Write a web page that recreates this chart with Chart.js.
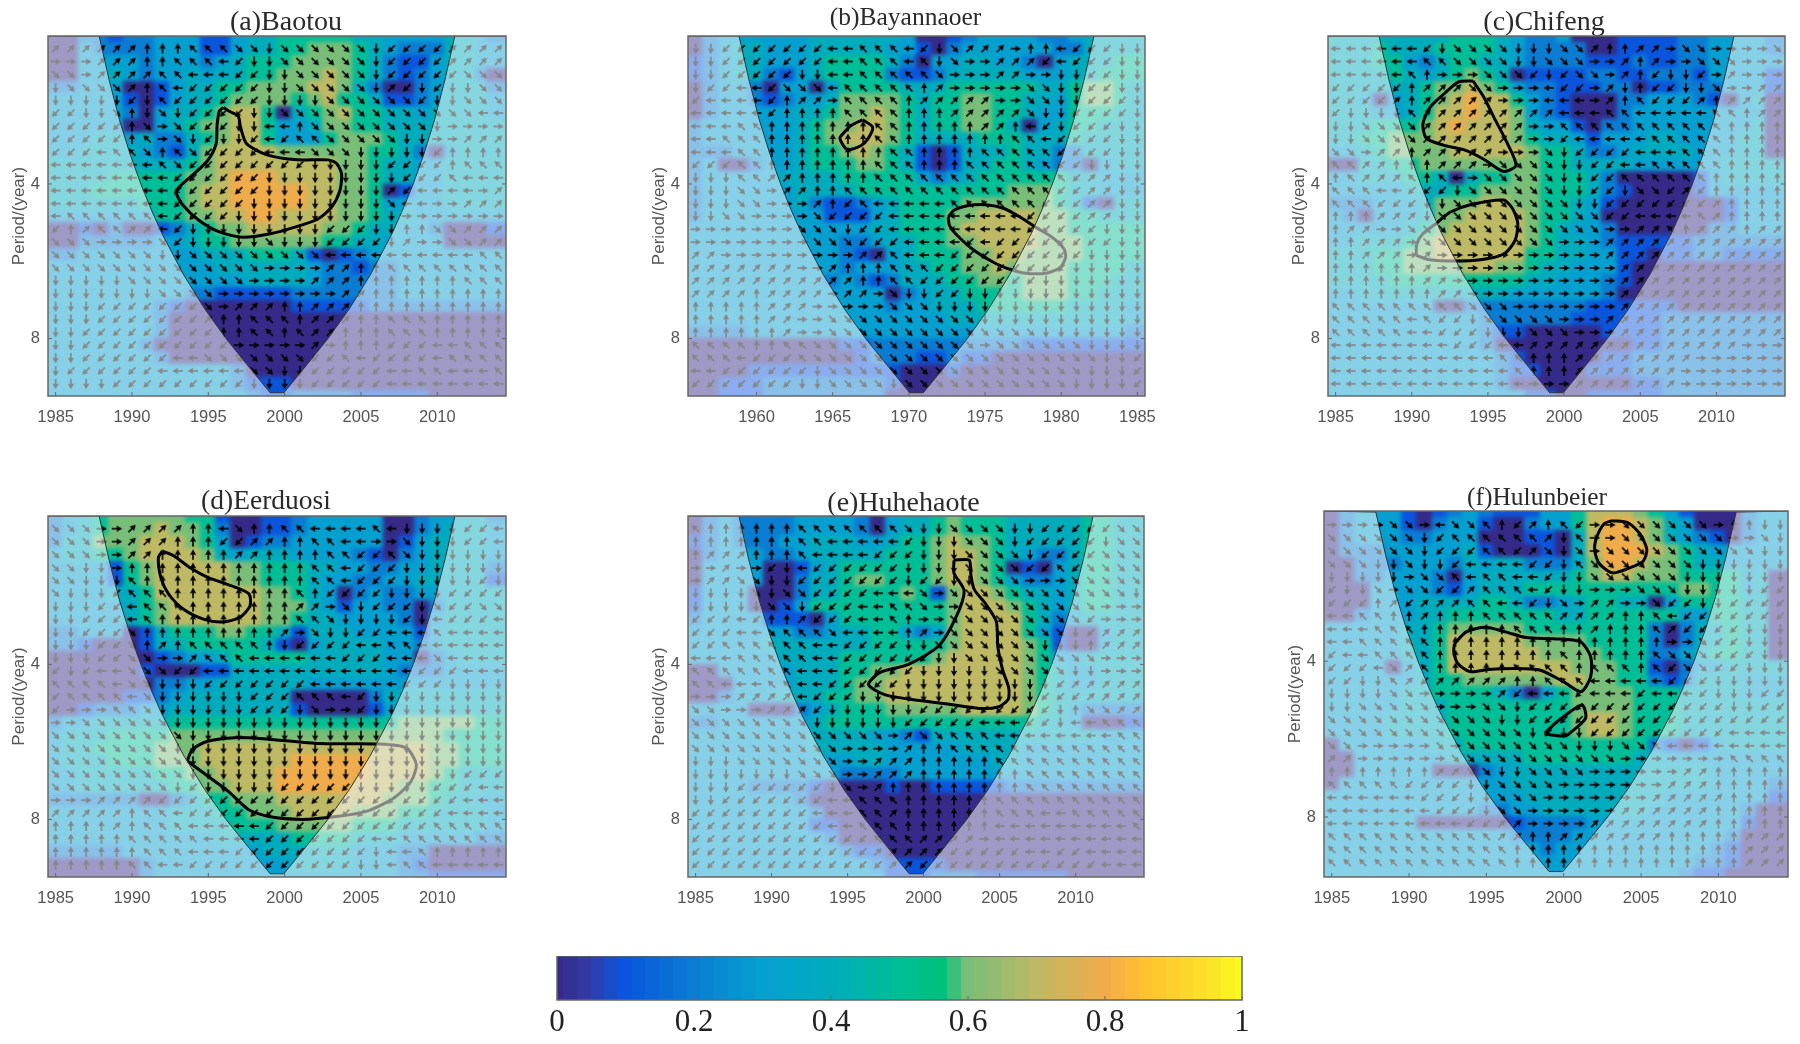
<!DOCTYPE html>
<html lang="en">
<head>
<meta charset="UTF-8">
<title>Wavelet coherence</title>
<script src="https://cdn.jsdelivr.net/npm/chart.js"></script>
<style>
    html, body { margin: 0; background: #fff; overflow: hidden; width: 1800px; height: 1044px; }
    canvas { position: absolute; filter: blur(0.6px); }
    canvas.heat { filter: blur(1.9px); }
</style>
</head>
<body>
<script>
// years and periods of the cells
const yearsMain = [1985,1986,1987,1988,1989,1990,1991,1992,1993,1994,1995,1996,1997,1998,1999,2000,2001,2002,2003,2004,2005,2006,2007,2008,2009,2010,2011,2012,2013,2014];
const yearsBayan = [1956,1957,1958,1959,1960,1961,1962,1963,1964,1965,1966,1967,1968,1969,1970,1971,1972,1973,1974,1975,1976,1977,1978,1979,1980,1981,1982,1983,1984,1985];
const periods = [2.06,2.18,2.31,2.45,2.6,2.75,2.91,3.09,3.27,3.47,3.67,3.89,4.12,4.37,4.62,4.9,5.19,5.5,5.83,6.17,6.54,6.93,7.34,7.78,8.24,8.73,9.25,9.8,10.38];
const tickPeriods = [4, 8];
const tickYearsMain = [1985,1990,1995,2000,2005,2010];
const tickYearsBayan = [1960,1965,1970,1975,1980,1985];

// cone of influence
const conePeriods = [2.06,2.5,3,3.5,4,4.5,5,6,7,8,9,10.2];
const coneOffsets = [2.85,3.49,4.18,4.88,5.58,6.28,6.97,8.37,9.76,11.16,12.55,14.05];

// coherence, one digit per cell (tenths), one row per period
const heatA = [
'00221 22333 11344 55555 44333 34432','00322 22333 11344 55666 54322 24433','00333 32333 23455 56666 54211 34433','00334 32334 34455 66676 54212 34420',
'22333 00134 45566 66776 42002 34442','33333 10134 45666 65675 54112 34443','33333 20344 56775 04567 55443 44443','33333 00345 66775 33466 55444 44444',
'33344 34224 56775 33356 66544 44444','33444 43214 67777 66666 65542 03444','44444 44445 67777 77776 65443 34444','44445 55556 67888 77776 65443 34444',
'44455 55556 77888 88776 65013 34444','44444 45556 77888 88776 65333 34444','33333 33556 67788 77776 65443 33333','00102 00124 56677 77766 54433 20001',
'00222 22334 55666 66655 44333 30000','22333 33333 44455 54101 23333 33333','33333 33333 34444 44322 12233 33333','33333 33333 33344 44322 22233 33333',
'33333 33332 21111 12222 22233 33333','33333 33210 00000 01111 12222 22222','33333 33200 00000 00000 00000 00000','33333 33200 00000 00000 00000 00000',
'33333 32000 00000 00000 00000 00000','33333 33200 00000 00000 00000 00000','33333 33333 33200 00000 00000 00000','33333 33333 33211 10000 00000 00000','33333 33333 33321 12222 11111 00000'];
const heatB = [
'02333 33344 44443 00123 33322 34444','02344 33344 44433 10233 33332 24444','12344 33345 55542 03344 33203 44455','12344 21345 55521 12444 44333 44555',
'02332 03303 55554 44555 55544 56654','02332 12334 66665 45566 55443 56654','02333 33445 66765 45566 55433 55544','23333 33456 67765 45566 54034 55444',
'23333 33456 77765 44445 55444 54444','22233 33455 67654 10144 45442 24444','23002 33455 56654 10144 55432 20344','23333 34444 55555 32345 55555 44333',
'23333 33444 45555 55555 56665 44333','23333 33421 12345 55566 66665 41044','23333 33331 11345 55667 77766 55444','33333 33333 33445 55677 77766 55555',
'33333 33333 22344 55667 77766 65555','33333 33333 21034 55566 77666 65555','33333 33333 23334 45566 76666 55554','33333 33332 32124 44556 65666 55544',
'33333 33333 33302 34455 55666 55444','33333 33333 33323 34445 55555 44443','33333 33333 33333 33444 44444 44443','22223 33333 33333 33333 33333 33332',
'00000 00000 11222 22222 22111 11111','00000 00000 01222 11211 00000 00000','00001 11111 11110 00100 00000 00000','00111 22222 22210 00000 00000 00000','00111 22222 22200 00000 00000 00000'];
const heatC = [
'44444 44455 54322 30001 11122 33332','44454 44555 54322 22001 11122 33332','44455 32455 44322 22111 21122 33333','44445 43456 54011 11221 12221 33331',
'44444 45667 65322 11122 01122 23331','44303 45678 77532 10002 23332 10340','44433 45778 77632 10002 33333 33330','44455 56787 77643 31022 33333 33340',
'44556 66777 77654 43133 34433 33440','33456 66677 77765 54223 44443 33440','00445 56666 66665 54444 33333 34444','33444 55404 55665 55420 00001 34444',
'33333 44455 66665 55421 00001 33333','22233 34666 77665 54310 00000 01333','32033 34667 77765 54300 00000 01333','33333 45677 77765 43320 00000 22333',
'33444 56777 77765 44321 11112 22222','44455 66777 77755 44331 10112 21111','44455 66667 76654 43331 00000 00000','44445 55555 55544 33321 00000 00000',
'33444 44444 44333 33320 00000 00000','33333 33002 22222 22111 11100 00000','33333 33333 22222 21111 11222 22222','33333 33333 21100 00011 11222 22222',
'33333 33333 20000 00000 11222 22222','33333 33333 32100 00011 22222 22222','33333 33333 32110 00111 22222 22222','33333 33333 32000 00000 11222 22222','33333 33333 33311 00111 11222 22222'];
const heatD = [
'23456 66665 51001 12333 33002 33442','23456 66766 52001 12333 33002 34443','24466 67776 53012 23333 33013 44443','34455 67777 64344 43333 21023 44443',
'33331 56777 77665 55443 32233 44442','33331 56777 77665 55433 22334 44441','33334 45777 77776 65430 23223 34444','33333 45677 77776 66431 33220 24444',
'33333 45677 77776 65443 33320 34444','22333 01455 56655 41444 33331 34444','22100 01445 55554 10344 44332 34444','00000 00123 34555 55444 44330 23444',
'00000 01000 11444 44444 44322 23333','00000 00223 34444 44333 33333 33333','00000 11234 44444 40000 02444 44444','00122 23344 44444 41000 01344 44444',
'23344 44455 55555 55555 55566 66655','34445 55566 66666 66666 66666 65555','34455 55666 77777 77777 77777 66555','34445 55666 77777 78888 87777 66555',
'33444 44556 67777 88888 87777 65444','33444 44455 66777 88888 77766 55444','22222 20023 55666 77777 77666 54433','33333 33344 45566 67777 66655 44443',
'33333 33344 44555 66666 55544 44443','33333 33333 34444 45555 44433 33322','22222 33333 33334 44444 33322 00000','00000 02333 33333 34444 33321 00000','00000 02333 33333 33333 33322 11111'];
const heatE = [
'02322 22333 32034 45655 54444 45544','02322 22333 32034 45655 54444 45544','12322 23344 43345 56766 54444 45544','02333 22344 44455 56776 54322 45544',
'03333 00134 55555 56776 50103 45544','03333 00244 56655 56776 53223 45544','13330 00244 55556 51677 65443 45544','13330 01355 55555 55677 76543 45544',
'23333 11103 55555 55677 77542 34444','33333 33223 44553 23677 77531 00344','33333 44444 44555 55677 77651 00344','33333 34444 55555 56777 77653 34444',
'00333 33444 55667 77777 77654 33444','00033 33444 56677 77777 77654 33444','00233 34445 56677 77777 77654 44444','33330 00234 55566 66677 77654 32222',
'22333 33345 55555 55555 55544 30001','33333 33344 44332 14444 44444 44333','33333 33344 44433 33344 44333 33333','33333 33333 34433 33333 44333 33333',
'33333 33333 22223 33333 33333 33333','33332 22210 00010 01111 12222 22222','33333 33200 00000 00000 00000 00000','33333 33320 00000 00000 00000 00000',
'33333 33311 00000 00000 00000 00000','33333 33332 00000 00000 00000 00000','33333 33333 21100 00000 00000 00000','33333 33333 33211 11000 00000 00000','33333 33333 33311 12221 11111 00000'];
const heatF = [
'02333 10123 21113 35777 65310 00233','02333 10233 10023 35788 76430 00233','02333 22333 00011 04788 76432 10233','02223 33334 10001 04788 87654 33333',
'00222 33324 34422 24688 76654 43333','00223 33203 44444 45677 66655 55340','00033 33213 44455 55555 55566 55340','00033 34444 55422 34554 40355 55440',
'00233 34455 55555 44555 55533 55440','33333 44566 66655 55555 52024 45440','33333 44577 77766 66555 52024 45440','33333 44577 77776 66655 52234 55440',
'33330 34577 77777 76665 51023 34444','33333 34556 66666 77665 52124 44333','33333 44555 54203 56666 55544 44333','33333 44455 55555 56666 55544 44444',
'33334 44455 55555 56776 55544 44444','33334 44455 55555 56776 55544 44444','03333 33445 55555 55555 52101 34444','00333 33344 44455 55555 44333 33333',
'00333 33000 23444 44444 44444 33333','03333 33333 33444 44444 44444 33332','33333 33333 33344 44444 44333 33331','33333 33333 22334 44444 43333 33200',
'33333 30000 00122 22333 33333 33100','33333 33333 33222 23333 33333 32000','33333 33333 33332 33333 33333 21000','33333 33333 33333 33333 33332 21000','33333 33333 33333 33333 33321 10000'];

// phase arrows, numeric keypad direction (8 up, 6 right, ...), rows start at the second period
const arrowsA = [
'99999 98887 77332 33333 32111 19999','66699 98877 74122 33333 32111 19999','33699 99774 44112 23333 32111 11333','23333 98741 11112 23333 32912 12233',
'22222 12711 11112 22233 33331 22333','11223 82321 11122 33333 33333 33344','11111 83631 11224 48333 33333 26666','11111 87632 12214 17733 33322 66999',
'11147 73873 11114 44333 22222 18888','44444 44731 11111 11222 22111 18777','44444 44411 11112 22222 22211 17444','44444 44411 11112 22222 22914 44469',
'44444 44411 11122 22222 22344 66999','47777 77411 11222 22222 22266 66666','18977 99412 22222 22211 12288 33999','33366 66312 22223 22211 11296 63399',
'33333 33223 33333 33344 44444 44477','33333 33333 33336 66699 88777 77777','22222 33333 33366 66999 88888 88777','22222 22333 36666 66669 98888 88888',
'22211 11111 36999 88999 88888 88888','22211 11111 98877 78999 88777 88888','22111 11111 18877 87998 88777 88888','22111 11111 11666 66968 88111 44777',
'22111 11144 33333 33117 41111 47777','21111 11444 44433 22111 11447 74447','22221 11111 11122 22111 11444 44444'];
const arrowsB = [
'22111 11114 47774 12399 96884 11122','22111 11114 47774 72366 99914 11122','22111 11224 47777 73666 99662 21122','21144 13334 77777 89666 66332 21122',
'14444 18996 77778 99999 66332 21112','44444 18888 77778 88999 99322 11112','44477 88888 88778 88889 98412 11122','44777 88888 88778 88888 87741 11122',
'44477 88888 88877 88887 77771 11122','11177 88888 88777 88877 77771 12222','22277 99888 88777 77777 77777 19922','22233 69988 77777 77777 77771 19922',
'22233 66698 17444 44777 77711 19922','22336 66631 11144 44444 44111 19922','66666 66333 21144 44444 44111 11222','66666 66633 31114 44414 11111 11122',
'99666 66666 69974 44111 11111 12222','99999 99669 88877 71111 11111 22222','99999 99999 98877 11111 11122 22222','99998 99996 99632 21122 22222 22222',
'88888 99966 66633 32222 22222 22222','88888 99663 33333 33332 22222 22222','88888 89663 33333 33333 33322 22222','77778 87733 33333 33336 33333 32222',
'77741 11733 33333 33333 33333 33221','44111 11123 33333 33333 33333 32221','11111 11223 33323 33333 33333 22221'];
const arrowsC = [
'44444 41233 33222 33988 99633 66663','44444 47733 33223 33669 89663 33666','44444 78666 33312 13369 81221 69666','11111 89993 36664 11692 81122 36699',
'11119 89999 96664 44698 71119 89999','12222 79999 99999 44477 44444 77899','22333 39999 99966 77777 77777 78888','22333 39999 99966 14444 47777 78888',
'33699 89999 96663 21111 44477 78888','77998 88999 63333 22114 47777 78888','87999 78746 33333 22117 77777 88888','77744 11123 33333 22112 33191 88888',
'77711 12233 33333 32211 11111 98888','88899 92333 33333 33311 44447 98888','89966 33333 33333 33366 99789 99899','88999 63333 33333 66699 99999 99999',
'88999 69666 66666 66699 99999 99999','88888 89666 66666 66669 99999 99999','88888 89966 66666 66669 99999 99999','88888 88996 66666 66669 99999 99999',
'77777 77773 33666 66669 99999 99999','77777 47112 33333 66699 99999 99999','77777 44111 22233 36669 99999 99999','44444 44411 14499 99999 99999 99666',
'44444 44444 47788 89999 99996 66666','44444 44444 44788 89999 99966 66666','44444 44444 44466 69999 99966 66666'];
const arrowsD = [
'33366 99998 84388 77444 47422 22114','33366 99988 81199 88774 46632 22114','33366 99888 88998 88877 11732 22222','33226 88888 88888 88774 11122 22222',
'33222 78888 88888 88774 11122 22212','32221 77788 88888 87811 11222 21111','22211 47778 88888 89963 21112 31133','22111 47888 88888 87732 22212 41114',
'22111 38888 88888 96322 11444 74444','22211 38987 77778 21111 44774 44444','22211 33669 77744 44441 11444 34444','12144 33311 44444 44444 44441 11444',
'77774 33222 11111 11444 44411 12222','17777 43222 22211 17774 12222 22222','16667 73222 22211 12366 12222 22222','66333 33322 22222 22222 22222 22222',
'33333 33332 22222 22222 22222 22222','33333 33322 22222 22222 22222 22222','33333 33332 22222 22222 22222 22222','33333 33332 22222 22222 22222 22111',
'33333 33321 22222 11111 22222 11144','66699 99111 11111 11111 11111 11444','99999 87741 11111 11111 11111 14444','88889 87774 44441 11111 11111 77777',
'88888 77777 44441 11111 14477 77777','88888 87774 44111 11111 12447 88888','88888 77441 11111 11111 22477 44444'];
const arrowsE = [
'78888 88777 77773 22333 32211 11133','88888 88774 44441 22233 32111 11233','89998 88744 44111 22233 33211 11333','66966 12411 11112 22233 33117 13333',
'69933 22111 11112 11223 33666 33333','22223 23311 11444 36333 33333 33332','22222 33211 14477 36633 33333 33666','11141 88911 14478 66333 33333 31666',
'11144 37773 44448 96333 33333 21999','11777 77744 11112 23333 33322 28999','44477 77744 11111 12233 33333 33666','77777 77444 11111 22222 33333 22666',
'77444 77441 11112 22222 22221 99999','66699 99411 12222 22222 22211 19999','33666 99912 22222 11111 11112 83399','33333 33322 22221 11114 44112 44777',
'33333 33333 33369 33777 44444 44477','33333 33333 66669 88777 77777 77777','22233 33333 66999 88888 77777 77777','22222 22333 66999 88888 88777 77777',
'22211 11112 36988 88888 88777 77777','22111 11114 47778 88888 77777 77777','11111 11144 47798 88888 77744 77777','11111 11114 47778 88888 44444 44447',
'11111 11111 11777 99996 44444 44444','11111 11111 11999 99111 11441 14444','11111 11111 11199 11111 11111 11444'];
const arrowsF = [
'66663 36433 78198 71663 33333 68822','33333 32177 77779 27663 33333 36632','33333 32111 77193 23633 33333 33322','33322 32214 44411 27333 33332 22222',
'22222 63374 77441 22333 33322 22222','12236 33119 77741 22666 33322 22211','11189 19997 74412 36996 63112 21111','44778 89888 77777 99998 87411 11111',
'44477 78888 88777 88988 87911 11222','44777 77888 88888 88888 88663 11222','14477 77888 88888 78888 87333 11122','11143 97888 88777 78777 87133 11222',
'11227 91999 99887 77444 44111 22222','22223 36666 69144 41444 14441 22211','22333 33666 33211 11111 11111 12211','33333 33333 32211 11111 11111 11111',
'33333 33333 33321 22111 11111 14444','33666 66363 33333 32223 37444 44444','99666 66633 33333 33336 66666 67777','88888 88993 32233 33666 66699 88888',
'77777 11112 23333 66666 66999 88888','44444 41112 23336 66666 69999 98888','44444 44111 23366 66669 99999 88888','44444 44441 19966 66999 99999 88888',
'77777 77777 79988 99999 99888 88999','77777 77777 77888 88888 88888 88999','77777 77777 77888 88888 88888 88999'];

// significance contours, [year, period]
const contoursA = [[[1996,2.84],[1995.73,2.88],[1995.58,3.06],[1995.51,3.34],[1994.96,3.6],[1994.07,3.82],[1993.29,4],[1992.89,4.14],[1993.29,4.38],[1994.4,4.71],[1995.73,4.96],[1997.29,5.08],[1999.07,5],[2000.62,4.86],[2002.18,4.68],[2003.07,4.44],[2003.62,4.12],[2003.73,3.82],[2003.4,3.65],[2002.84,3.59],[2000.84,3.59],[1998.84,3.51],[1997.51,3.34],[1997.11,3.1],[1996.96,2.95],[1996.4,2.89],[1996,2.84]]];
const contoursB = [
[[1966.96,3],[1966.18,3.08],[1965.73,3.18],[1965.47,3.26],[1965.96,3.43],[1966.84,3.37],[1967.33,3.26],[1967.62,3.1],[1966.96,3]],
[[1972.58,4.64],[1972.96,4.5],[1973.84,4.41],[1975.07,4.39],[1976.29,4.47],[1977.29,4.64],[1978.4,4.87],[1979.4,5.08],[1980.18,5.35],[1980.29,5.55],[1979.96,5.81],[1979.07,5.96],[1977.96,5.98],[1976.96,5.91],[1975.73,5.72],[1974.29,5.39],[1973.18,5.04],[1972.67,4.82],[1972.58,4.64]]];
const contoursC = [
[[1994.02,2.52],[1993.07,2.53],[1992.18,2.66],[1991.18,2.84],[1990.73,3.06],[1990.96,3.26],[1992.07,3.36],[1993.4,3.43],[1994.73,3.58],[1996.02,3.78],[1996.84,3.68],[1996.29,3.34],[1995.4,2.97],[1994.73,2.71],[1994.02,2.52]],
[[1990.29,5.51],[1990.33,5.23],[1990.73,5],[1991.62,4.77],[1992.51,4.54],[1993.84,4.39],[1996.02,4.3],[1996.62,4.47],[1996.96,4.78],[1996.78,5.15],[1996.07,5.47],[1994.51,5.62],[1992.73,5.65],[1991.18,5.62],[1990.29,5.51]]];
const contoursD = [
[[1992,2.41],[1991.73,2.48],[1991.89,2.71],[1992.4,2.92],[1993.4,3.13],[1994.73,3.27],[1995.96,3.31],[1997.07,3.24],[1997.73,3.08],[1997.67,2.92],[1996.73,2.83],[1994.96,2.71],[1993.84,2.6],[1992.73,2.46],[1992,2.41]],
[[1993.62,6.16],[1993.96,5.85],[1994.96,5.64],[1996.73,5.55],[1998.96,5.59],[2002.29,5.7],[2006.07,5.71],[2007.96,5.81],[2008.62,6.25],[2008.29,6.74],[2007.18,7.26],[2005.4,7.71],[2003.4,7.9],[2001.18,8],[1998.96,7.9],[1997.62,7.65],[1996.29,7.05],[1994.96,6.59],[1993.62,6.16]]];
const contoursE = [[[2002,2.51],[2003,2.51],[2003.11,2.68],[2003.33,2.86],[2004.11,3.06],[2004.78,3.3],[2004.89,3.71],[2005.22,4.12],[2005.6,4.44],[2005.56,4.68],[2004.89,4.84],[2003.67,4.87],[2001.44,4.77],[1999.22,4.68],[1997.44,4.58],[1996.38,4.38],[1997.11,4.15],[1999,4],[2001,3.68],[2002.11,3.25],[2002.67,2.88],[2002,2.66],[2002,2.51]]];
const contoursF = [
[[2003.13,2.14],[2004.16,2.16],[2004.93,2.27],[2005.37,2.43],[2005.15,2.56],[2004.27,2.64],[2003.17,2.7],[2002.29,2.59],[2002,2.44],[2002.14,2.3],[2002.62,2.17],[2003.13,2.14]],
[[1992.93,3.7],[1993.7,3.51],[1994.91,3.44],[1996.23,3.51],[1997.56,3.6],[1999.32,3.62],[2001.08,3.67],[2001.74,3.92],[2001.74,4.29],[2001.12,4.58],[1999.98,4.38],[1998.44,4.16],[1996.89,4.13],[1995.13,4.15],[1993.92,4.19],[1993.15,4.04],[1992.89,3.84],[1992.93,3.7]],
[[1998.77,5.51],[1999.76,5.18],[2001.19,4.86],[2001.41,5.16],[2000.42,5.5],[2000.09,5.58],[1999.1,5.55],[1998.77,5.51]]];

// colour bar
const cbarLevels = [0,0.02,0.04,0.06,0.08,0.1,0.12,0.14,0.16,0.18,0.2,0.22,0.24,0.26,0.28,0.3,0.32,0.34,0.36,0.38,0.4,0.42,0.44,0.46,0.48,0.5,0.52,0.54,0.56,0.58,0.6,0.62,0.64,0.66,0.68,0.7,0.72,0.74,0.76,0.78,0.8,0.82,0.84,0.86,0.88,0.9,0.92,0.94,0.96,0.98,1];
const cbarTicks = [0, 0.2, 0.4, 0.6, 0.8, 1];
const stopValues = [0, 0.05, 0.1, 0.2, 0.3, 0.4, 0.5, 0.56, 0.6, 0.7, 0.8, 0.85, 0.95, 1];
const stopColors = [[53,42,135],[50,60,170],[10,85,220],[10,125,210],[5,160,208],[0,172,188],[0,190,150],[0,192,125],[120,190,120],[190,185,100],[240,172,75],[255,190,50],[250,225,40],[250,250,30]];

const panels = [
    {title: '(a)Baotou', titleSize: 28, years: yearsMain, ticks: tickYearsMain, heat: heatA, arrows: arrowsA, contours: contoursA, x: 48, y: 36, w: 458, h: 360, titleH: 27, canvasW: 574},
    {title: '(b)Bayannaoer', titleSize: 25.5, years: yearsBayan, ticks: tickYearsBayan, heat: heatB, arrows: arrowsB, contours: contoursB, x: 688, y: 36, w: 457, h: 360, titleH: 35, canvasW: 533},
    {title: '(c)Chifeng', titleSize: 28, years: yearsMain, ticks: tickYearsMain, heat: heatC, arrows: arrowsC, contours: contoursC, x: 1328, y: 36, w: 457, h: 360, titleH: 27, canvasW: 530},
    {title: '(d)Eerduosi', titleSize: 27.5, years: yearsMain, ticks: tickYearsMain, heat: heatD, arrows: arrowsD, contours: contoursD, x: 48, y: 516, w: 458, h: 361, titleH: 28, canvasW: 534},
    {title: '(e)Huhehaote', titleSize: 28, years: yearsMain, ticks: tickYearsMain, heat: heatE, arrows: arrowsE, contours: contoursE, x: 688, y: 516, w: 456, h: 361, titleH: 25, canvasW: 529},
    {title: '(f)Hulunbeier', titleSize: 25.5, years: yearsMain, ticks: tickYearsMain, heat: heatF, arrows: arrowsF, contours: contoursF, x: 1324, y: 511, w: 464, h: 366, titleH: 25, canvasW: 524}
];

const AXIS_W = 49, AXIS_H = 44;
const arrowAngles = {6: 0, 3: 45, 2: 90, 1: 135, 4: 180, 7: 225, 8: 270, 9: 315};

function colorFor(v) {
    let i = 0;
    while (i < stopValues.length - 2 && v > stopValues[i + 1]) i++;
    const t = (v - stopValues[i]) / (stopValues[i + 1] - stopValues[i]);
    const c = stopColors[i].map((a, k) => Math.round(a + (stopColors[i + 1][k] - a) * t));
    return `rgb(${c[0]},${c[1]},${c[2]})`;
}

function cellStyle(w, h, color) {
    const c = document.createElement('canvas');
    c.width = w;
    c.height = h;
    const g = c.getContext('2d');
    g.fillStyle = color;
    g.fillRect(0, 0, w, h);
    return c;
}

// arrow pointing right, rotated per point by pointRotation
function arrowStyle() {
    const c = document.createElement('canvas');
    c.width = 16;
    c.height = 16;
    const g = c.getContext('2d');
    g.fillStyle = '#000';
    g.fillRect(3, 7.2, 6, 1.6);
    g.beginPath();
    g.moveTo(13.5, 8);
    g.lineTo(7.6, 4.8);
    g.lineTo(8.6, 8);
    g.lineTo(7.6, 11.2);
    g.closePath();
    g.fill();
    return c;
}
const arrowCanvas = arrowStyle();

function digits(rows) {
    return rows.map(r => r.replace(/ /g, '').split('').map(Number));
}

// outline of everything outside the cone, filled down to the axis
function outsideCone(years, yMin) {
    const first = years[0], last = years[years.length - 1];
    const pts = [{x: first - 0.5, y: yMin}];
    coneOffsets.forEach((d, i) => pts.push({x: first + d, y: conePeriods[i]}));
    for (let i = coneOffsets.length - 1; i >= 0; i--) pts.push({x: last - coneOffsets[i], y: conePeriods[i]});
    pts.push({x: last + 0.5, y: yMin});
    return pts;
}

// box and inward ticks as in the MATLAB axes
const framePlugin = {
    id: 'frame',
    afterDraw(chart) {
        const {ctx, chartArea: a, scales} = chart;
        ctx.save();
        ctx.strokeStyle = '#666';
        ctx.lineWidth = 1.5;
        ctx.strokeRect(a.left, a.top, a.right - a.left, a.bottom - a.top);
        ctx.lineWidth = 1;
        ctx.beginPath();
        scales.x.ticks.forEach(t => {
            const px = scales.x.getPixelForValue(t.value);
            ctx.moveTo(px, a.bottom);
            ctx.lineTo(px, a.bottom - 4);
        });
        if (scales.y.options.display) {
            scales.y.ticks.forEach(t => {
                const py = scales.y.getPixelForValue(t.value);
                ctx.moveTo(a.left, py);
                ctx.lineTo(a.left + 4, py);
                ctx.moveTo(a.right, py);
                ctx.lineTo(a.right - 4, py);
            });
        }
        ctx.stroke();
        ctx.restore();
    }
};

function panelCanvas(p, blurred) {
    const canvas = document.createElement('canvas');
    canvas.width = p.canvasW;
    canvas.height = p.titleH + p.h + AXIS_H;
    canvas.style.left = (p.x - AXIS_W) + 'px';
    canvas.style.top = (p.y - p.titleH) + 'px';
    if (blurred) {
        // the blurred cells must stop at the plot box
        canvas.className = 'heat';
        canvas.style.clipPath = `inset(${p.titleH}px ${p.canvasW - AXIS_W - p.w}px ${AXIS_H}px ${AXIS_W}px)`;
    }
    document.body.appendChild(canvas);
    return canvas;
}

function panelOptions(p, yMin, yMax, ghost) {
    const ink = c => (ghost ? 'transparent' : c);
    return {
        responsive: false,
        animation: false,
        events: [],
        layout: {autoPadding: false},
        plugins: {
            legend: {display: false},
            tooltip: {enabled: false},
            title: {
                display: true,
                text: p.title,
                color: ink('#2a2a2a'),
                padding: 0,
                font: {family: '"Liberation Serif"', size: p.titleSize, weight: 'normal', lineHeight: p.titleH + 'px'}
            }
        },
        scales: {
            x: {
                type: 'linear',
                min: p.years[0] - 0.5,
                max: p.years[p.years.length - 1] + 0.5,
                grid: {display: false, drawTicks: false},
                border: {display: false},
                afterBuildTicks: s => { s.ticks = p.ticks.map(v => ({value: v})); },
                afterFit: s => { s.height = AXIS_H; },
                ticks: {
                    callback: v => String(v),
                    autoSkip: false,
                    maxRotation: 0,
                    padding: 12,
                    color: ink('#555'),
                    font: {family: '"Liberation Sans"', size: 16.5}
                }
            },
            y: {
                type: 'logarithmic',
                reverse: true,
                min: yMin,
                max: yMax,
                grid: {display: false, drawTicks: false},
                border: {display: false},
                afterBuildTicks: s => { s.ticks = tickPeriods.map(v => ({value: v})); },
                afterFit: s => { s.width = AXIS_W; },
                title: {
                    display: true,
                    text: 'Period/(year)',
                    color: ink('#555'),
                    padding: {top: 10, bottom: 0},
                    font: {family: '"Liberation Sans"', size: 17}
                },
                ticks: {
                    callback: v => String(v),
                    autoSkip: false,
                    padding: 8,
                    color: ink('#555'),
                    font: {family: '"Liberation Sans"', size: 16.5}
                }
            },
            // empty box on the right, lets the title sit off the plot centre
            spare: {
                type: 'linear',
                position: 'right',
                ticks: {display: false},
                grid: {display: false, drawTicks: false},
                border: {display: false},
                afterFit: s => { s.width = p.canvasW - AXIS_W - p.w; }
            }
        }
    };
}

function drawPanel(p) {
    const isF = p.title[1] === 'f';
    const yMin = isF ? 2.05 : 2.06;
    const yMax = isF ? 10.45 : 10.35;
    const cellW = Math.ceil(p.w / 30) + 1, cellH = Math.ceil(p.h / 28) + 1;
    const styles = {};
    const heatPts = [], heatStyles = [];
    digits(p.heat).forEach((row, k) => row.forEach((d, c) => {
        // edge columns reach past the box so the blur does not fade there
        const edge = c === 0 || c === row.length - 1;
        const key = d + (edge ? 'e' : '');
        styles[key] = styles[key] || cellStyle(edge ? cellW + 8 : cellW, cellH, colorFor(d / 10));
        heatPts.push({x: p.years[c], y: periods[k]});
        heatStyles.push(styles[key]);
    }));
    const arrowPts = [], arrowRot = [];
    digits(p.arrows).forEach((row, k) => row.forEach((d, c) => {
        arrowPts.push({x: p.years[c], y: periods[k + 1]});
        arrowRot.push(arrowAngles[d]);
    }));

    new Chart(panelCanvas(p, true), {
        type: 'scatter',
        data: {datasets: [{data: heatPts, pointStyle: heatStyles, pointRadius: 12, clip: 10}]},
        options: panelOptions(p, yMin, yMax, true)
    });

    const datasets = [
        {data: arrowPts, pointStyle: arrowCanvas, pointRotation: arrowRot, pointRadius: 8, clip: 0, order: 3}
    ];
    p.contours.forEach(line => datasets.push({
        data: line.map(q => ({x: q[0], y: q[1]})),
        showLine: true, pointRadius: 0, borderColor: '#000', borderWidth: 3, tension: 0.25, order: 2
    }));
    datasets.push({
        data: outsideCone(p.years, yMin),
        showLine: true, pointRadius: 0, borderColor: '#333', borderWidth: 1,
        backgroundColor: 'rgba(255,255,255,0.52)', fill: 'start', order: 1
    });
    new Chart(panelCanvas(p, false), {
        type: 'scatter',
        data: {datasets},
        plugins: [framePlugin],
        options: panelOptions(p, yMin, yMax, false)
    });
}

function drawColorbar() {
    const pad = 20, barW = 685, barH = 44;
    const canvas = document.createElement('canvas');
    canvas.width = barW + pad * 2;
    canvas.height = 88;
    canvas.style.left = (557 - pad) + 'px';
    canvas.style.top = '956px';
    document.body.appendChild(canvas);
    const cellW = Math.ceil(barW / 50) + 1;
    new Chart(canvas, {
        type: 'scatter',
        data: {datasets: [{
            data: cbarLevels.map(v => ({x: v, y: 0.5})),
            pointStyle: cbarLevels.map(v => cellStyle(cellW, barH, colorFor(v))),
            pointRadius: 20,
            clip: 0
        }]},
        plugins: [framePlugin],
        options: {
            responsive: false,
            animation: false,
            events: [],
            layout: {autoPadding: false, padding: {left: pad, right: pad}},
            plugins: {legend: {display: false}, tooltip: {enabled: false}},
            scales: {
                x: {
                    type: 'linear', min: 0, max: 1,
                    grid: {display: false, drawTicks: false},
                    border: {display: false},
                    afterBuildTicks: s => { s.ticks = cbarTicks.map(v => ({value: v})); },
                    afterFit: s => { s.height = 88 - barH; },
                    ticks: {
                        callback: v => String(v),
                        autoSkip: false,
                        maxRotation: 0,
                        padding: 4,
                        color: '#222',
                        font: {family: '"Liberation Serif"', size: 31}
                    }
                },
                y: {type: 'linear', min: 0, max: 1, display: false}
            }
        }
    });
}

panels.forEach(drawPanel);
drawColorbar();
</script>
</body>
</html>
